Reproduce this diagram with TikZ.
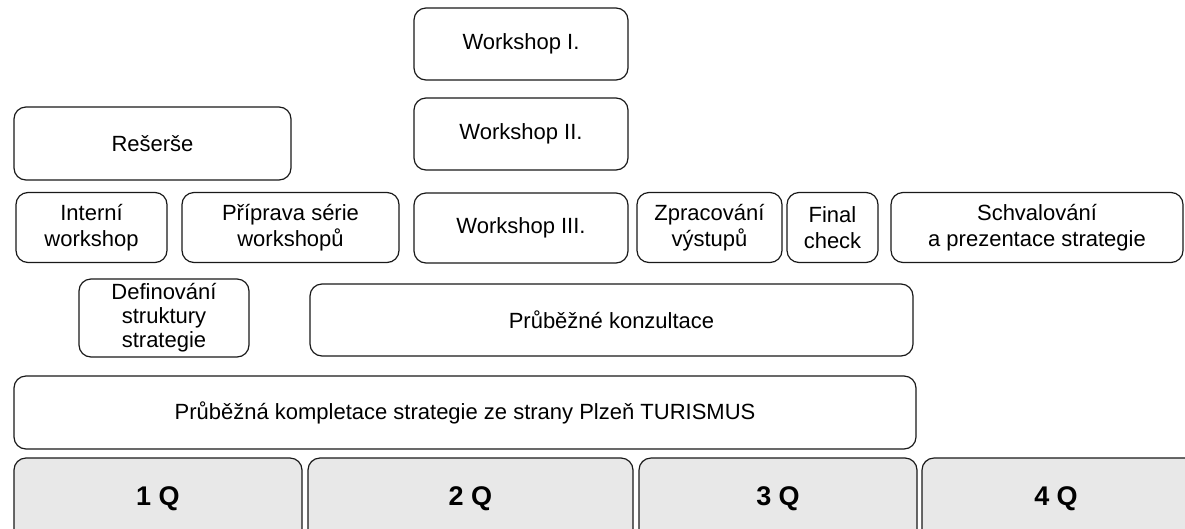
\documentclass[tikz,border=0pt]{standalone}
\usepackage{fontspec}
\setmainfont{Liberation Sans}
\begin{document}
\begin{tikzpicture}[x=1pt, y=-1pt,
    task/.style={draw=black!90, line width=1.2pt, rounded corners=12pt, align=center,
                 inner sep=2pt, font=\fontsize{22}{26}\selectfont},
    quarter/.style={task, fill=black!9, minimum height=84, font=\fontsize{27}{30}\selectfont\bfseries}]
    \useasboundingbox (0,0) rectangle (1185,528);
    \clip (0,0) rectangle (1185,528);
    \node[task, minimum width=214, minimum height=72] (ws1) at (521,44) {Workshop I.};
    \node[task, minimum width=277, minimum height=73] (reserse) at (152.5,143.5) {Rešerše};
    \node[task, minimum width=214, minimum height=72] (ws2) at (521,134) {Workshop II.};
    \node[task, minimum width=151, minimum height=70] (interni) at (91.5,227.5) {Interní\\workshop};
    \node[task, minimum width=217, minimum height=70] (priprava) at (290.5,227.5) {Příprava série\\workshopů};
    \node[task, minimum width=214, minimum height=70] (ws3) at (521,228) {Workshop III.};
    \node[task, minimum width=145, minimum height=70] (zpracovani) at (709.5,227.5) {Zpracování\\výstupů};
    \node[task, minimum width=91, minimum height=70] (final) at (832.5,227.5) {Final\\check};
    \node[task, minimum width=292, minimum height=70] (schvalovani) at (1037,227.5) {Schvalování\\a prezentace strategie};
    \node[task, minimum width=170, minimum height=78, font=\fontsize{22}{24}\selectfont] (definovani) at (164,318) {Definování\\struktury\\strategie};
    \node[task, minimum width=603, minimum height=72] (konzultace) at (611.5,320) {Průběžné konzultace};
    \node[task, minimum width=902, minimum height=73] (kompletace) at (465,412.5) {Průběžná kompletace strategie ze strany Plzeň TURISMUS};
    \node[quarter, minimum width=288] (q1) at (158,500) {\raisebox{7pt}{1 Q}};
    \node[quarter, minimum width=325] (q2) at (470.5,500) {\raisebox{7pt}{2 Q}};
    \node[quarter, minimum width=278] (q3) at (778,500) {\raisebox{7pt}{3 Q}};
    \node[quarter, minimum width=290] (q4) at (1067,500) {\hspace*{-22pt}\raisebox{7pt}{4 Q}};
\end{tikzpicture}
\end{document}
